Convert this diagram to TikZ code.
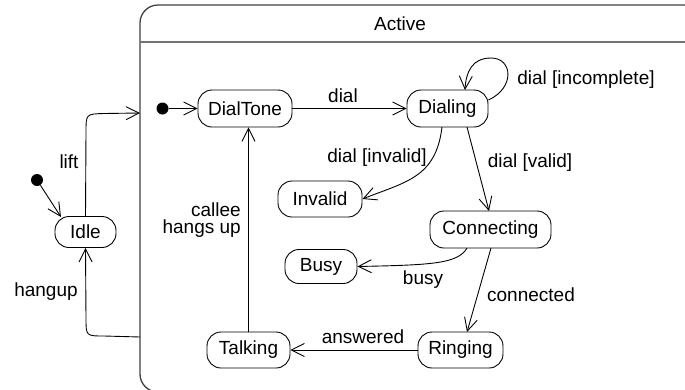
\documentclass[tikz,border=0pt]{standalone}
\usepackage{fontspec}
\setmainfont{Liberation Sans}
\usetikzlibrary{arrows.meta}
\begin{document}
\begin{tikzpicture}[x=1pt,y=-1pt,
  every node/.style={font=\fontsize{19}{22}\selectfont},
  state/.style={draw, rounded corners=14pt, inner sep=0pt, line width=0.9pt},
  lbl/.style={inner sep=0pt, text height=13pt, text depth=4pt},
  arr/.style={line width=0.9pt, -{Straight Barb[length=13pt,width=13pt,line width=0.9pt]}},
  init/.style={circle, fill=black, inner sep=0pt, minimum size=12pt}]
\useasboundingbox (0,0) rectangle (685,389);
\begin{scope}
\clip (0,0) rectangle (685,389);
\draw[line width=1.3pt, draw=black!75, rounded corners=18pt] (140,5) rectangle (702,392);
\draw[line width=2pt, draw=black!55] (140,42) -- (685,42);
\end{scope}
\node[lbl] (activelbl) at (400,26) {Active};

% states
\node[state, minimum width=61pt, minimum height=31pt] (idle) at (85.5,232) {Idle};
\node[state, minimum width=94pt, minimum height=37pt] (dialtone) at (245,108.5) {DialTone};
\node[state, minimum width=81pt, minimum height=37pt] (dialing) at (447.5,108.5) {Dialing};
\node[state, minimum width=84pt, minimum height=36pt] (invalid) at (320,199) {Invalid};
\node[state, minimum width=121pt, minimum height=37pt] (connecting) at (490.5,229.5) {Connecting};
\node[state, minimum width=72pt, minimum height=34pt] (busy) at (321,266.5) {Busy};
\node[state, minimum width=83pt, minimum height=36pt] (talking) at (248.5,350) {Talking};
\node[state, minimum width=85pt, minimum height=36pt] (ringing) at (460.5,350) {Ringing};

% initial pseudostates
\node[init] (init1) at (37,180) {};
\node[init] (init2) at (162.5,108.5) {};

\coordinate (activeIn) at (140,113);
\coordinate (activeOut) at (140,337);
\coordinate (idleIn) at (61,217);

% connectors
\draw[arr] (init1) -- (idleIn);
\draw[arr] (idle.north) -- (86,132) .. controls (86,114) .. (104,113.5) -- (activeIn);
\draw[arr] (activeOut) -- (104,336) .. controls (86,336) .. (86,318) -- (idle.south);
\draw[arr] (init2) -- (dialtone.west);
\draw[arr] (dialtone.east) -- (dialing.west);
\draw[arr] (dialing.east |- 0,100) .. controls (515,88) and (513,58) .. (491,58)
  .. controls (472,58) and (466,72) .. (465,90);
\draw[arr] (442,127) .. controls (436,178) and (405,182) .. (invalid.east);
\draw[arr] (467,127) -- (489,211);
\draw[arr] (467,248) .. controls (458,264) and (430,265) .. (busy.east);
\draw[arr] (491,248) -- (467,332);
\draw[arr] (ringing.west) -- (talking.east);
\draw[arr] (talking.north) -- (talking.north |- dialtone.south);

% labels
\node[lbl] (liftlbl) at (69,164) {lift};
\node[lbl] (hanguplbl) at (46,292) {hangup};
\node[lbl] (diallbl) at (343,98) {dial};
\node[lbl] (incompletelbl) at (586,80) {dial [incomplete]};
\node[lbl] (invalidlbl) at (377,158) {dial [invalid]};
\node[lbl] (validlbl) at (530,163) {dial [valid]};
\node[lbl] (busylbl) at (423,280) {busy};
\node[lbl] (connectedlbl) at (531,297) {connected};
\node[lbl] (answeredlbl) at (363,339) {answered};
\node[inner sep=0pt, anchor=east, align=right, font=\fontsize{19}{17}\selectfont] (calleelbl) at (241,220.5) {callee\\hangs up};
\end{tikzpicture}
\end{document}
